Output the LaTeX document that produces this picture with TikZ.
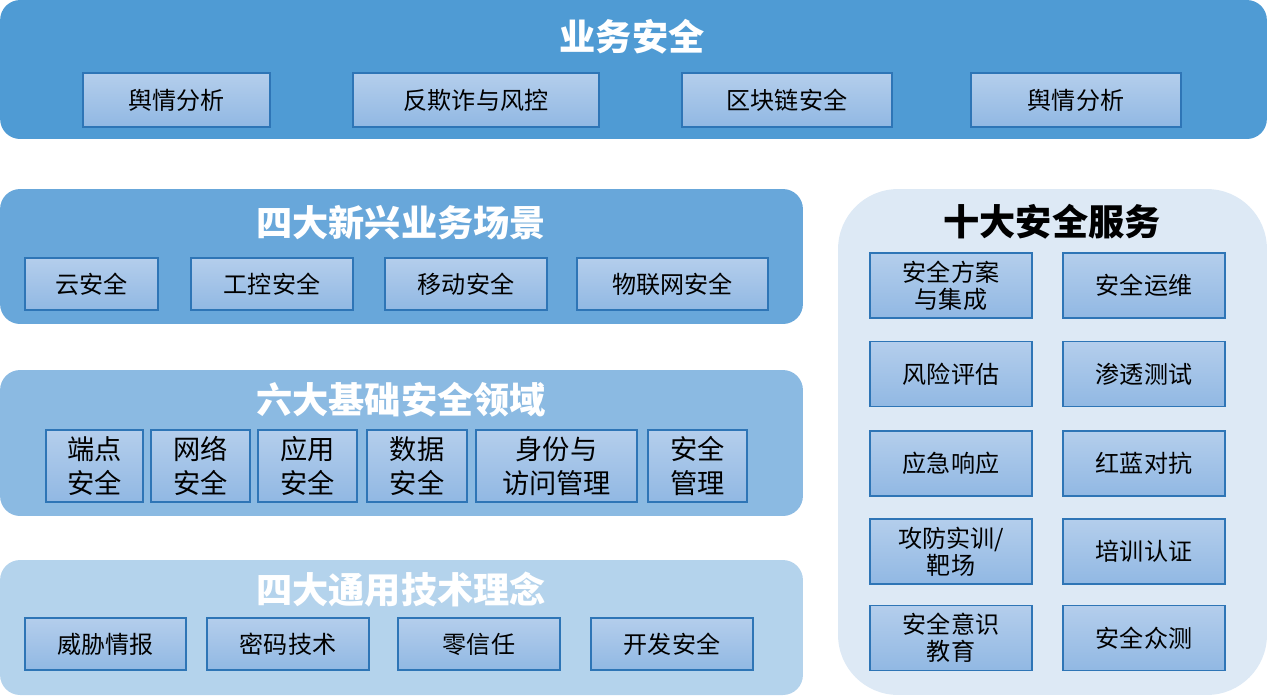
\documentclass[tikz,border=0pt]{standalone}
\usepackage{fontspec}
\setmainfont{Noto Sans CJK SC}
\usetikzlibrary{positioning}
\definecolor{bizblue}{RGB}{79,155,212}
\definecolor{newblue}{RGB}{104,167,218}
\definecolor{basblue}{RGB}{139,186,226}
\definecolor{genblue}{RGB}{180,211,236}
\definecolor{svcblue}{RGB}{221,233,245}
\definecolor{itemtop}{RGB}{180,206,236}
\definecolor{itembot}{RGB}{145,184,227}
\definecolor{itemline}{RGB}{46,117,182}
\tikzstyle{panel} = [rectangle, inner sep=0pt, rounded corners=0.4cm]
\tikzstyle{title} = [font=\fontsize{20.6}{24}\selectfont\bfseries, text=white]
\tikzstyle{item} = [rectangle, draw=itemline, line width=1.1pt, top color=itemtop,
    bottom color=itembot, inner sep=0pt, minimum height=1.04cm,
    font=\fontsize{13.7}{16}\selectfont, align=center]

\begin{document}
\begin{tikzpicture}[x=0.02cm, y=-0.02cm]
    \useasboundingbox (0,0) rectangle (1267,697);
    % Place panels
    \node [panel, fill=bizblue, minimum width=25.34cm, minimum height=2.78cm] (biz) at (633.5,69.5) {};
    \node [panel, fill=newblue, minimum width=16.06cm, minimum height=2.7cm] (new) at (401.5,256.5) {};
    \node [panel, fill=basblue, minimum width=16.06cm, minimum height=2.92cm] (base) at (401.5,443) {};
    \node [panel, fill=genblue, minimum width=16.06cm, minimum height=2.7cm] (gen) at (401.5,627.5) {};
    \node [panel, fill=svcblue, minimum width=8.58cm, minimum height=10.12cm, rounded corners=1.2cm] (svc) at (1052.5,442) {};
    % Titles
    \node [title] (biztitle) at (632,37) {业务安全};
    \node [title] (newtitle) at (401,223) {四大新兴业务场景};
    \node [title] (basetitle) at (401,400) {六大基础安全领域};
    \node [title] (gentitle) at (401,590) {四大通用技术理念};
    \node [title, text=black] (svctitle) at (1052,222) {十大安全服务};
    % Business security
    \node [item, minimum width=3.74cm, minimum height=1.08cm] (sentiment) at (176.5,100) {舆情分析};
    \node [item, minimum width=4.92cm, minimum height=1.08cm] (fraud) at (476,100) {反欺诈与风控};
    \node [item, minimum width=4.2cm, minimum height=1.08cm] (chain) at (787,100) {区块链安全};
    \node [item, minimum width=4.2cm, minimum height=1.08cm] (sentiment2) at (1076,100) {舆情分析};
    % New scenarios
    \node [item, minimum width=2.66cm] (cloud) at (91.5,284) {云安全};
    \node [item, minimum width=3.24cm] (ics) at (272,284) {工控安全};
    \node [item, minimum width=3.24cm] (mobile) at (466,284) {移动安全};
    \node [item, minimum width=3.82cm] (iot) at (672.5,284) {物联网安全};
    % Basic domains
    \tikzset{baseitem/.style={item, minimum height=1.44cm, font=\fontsize{15.5}{19}\selectfont}}
    \node [baseitem, minimum width=1.94cm] (endpoint) at (94.5,466) {端点\\安全};
    \node [baseitem, minimum width=1.98cm] (network) at (200.5,466) {网络\\安全};
    \node [baseitem, minimum width=1.98cm] (app) at (307.5,466) {应用\\安全};
    \node [baseitem, minimum width=2.0cm] (data) at (417,466) {数据\\安全};
    \node [baseitem, minimum width=3.22cm] (identity) at (556.5,466) {身份与\\访问管理};
    \node [baseitem, minimum width=1.98cm] (mgmt) at (697.5,466) {安全\\管理};
    % General concepts
    \node [item, minimum width=3.22cm] (intel) at (105.5,644) {威胁情报};
    \node [item, minimum width=3.24cm] (crypto) at (288,644) {密码技术};
    \node [item, minimum width=3.24cm] (zerotrust) at (479,644) {零信任};
    \node [item, minimum width=3.24cm] (devsec) at (672,644) {开发安全};
    % Security services
    \tikzset{svcitem/.style={item, minimum width=3.24cm, minimum height=1.3cm, font=\fontsize{13.7}{15.5}\selectfont}}
    \node [svcitem] (plan) at (951,285.5) {安全方案\\与集成};
    \node [svcitem] (ops) at (1144,285.5) {安全运维};
    \node [svcitem] (risk) at (951,374) {风险评估};
    \node [svcitem] (pentest) at (1144,374) {渗透测试};
    \node [svcitem] (response) at (951,463.5) {应急响应};
    \node [svcitem] (redblue) at (1144,463.5) {红蓝对抗};
    \node [svcitem] (range) at (951,551.5) {攻防实训/\\靶场};
    \node [svcitem] (training) at (1144,551.5) {培训认证};
    \node [svcitem] (awareness) at (951,638) {安全意识\\教育};
    \node [svcitem] (crowd) at (1144,638) {安全众测};
\end{tikzpicture}
\end{document}
